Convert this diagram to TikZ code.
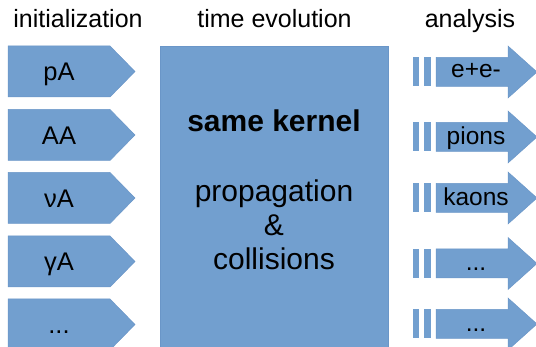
\documentclass[tikz,border=0pt]{standalone}
\usepackage{fontspec}
\setmainfont{Liberation Sans}
\definecolor{boxblue}{HTML}{729FCF}
\definecolor{boxedge}{HTML}{6A96C8}
\newcommand\threedots{...}

\begin{document}
\begin{tikzpicture}[x=1pt,y=-1pt,
  shapefill/.style={fill=boxblue, draw=boxedge, line width=0.5pt},
  title/.style={font=\fontsize{25}{30}\selectfont, anchor=base, inner sep=0pt},
  inlabel/.style={font=\fontsize{25.5}{30}\selectfont, anchor=base, inner sep=0pt},
  outlabel/.style={font=\fontsize{24.5}{30}\selectfont, anchor=base, inner sep=0pt},
  kernel/.style={font=\fontsize{30}{34}\selectfont, anchor=base, inner sep=0pt}]
\useasboundingbox (0,0) rectangle (536,347);

% column headings
\node[title] (hInit) at (78,28) {initialization};
\node[title] (hTime) at (274.5,28) {time evolution};
\node[title] (hAna)  at (470,28) {analysis};

% initial-state pentagons
\foreach \c/\txt/\nm in {71.5/pA/pA, 135/AA/AA, 198/νA/nuA, 261.5/γA/gA, 324.5/\threedots/more}{
  \draw[shapefill] (8,\c-25.5) -- (110,\c-25.5) -- (135,\c) -- (110,\c+25.5) -- (8,\c+25.5) -- cycle;
  \node[inlabel] (in-\nm) at (59,\c+9.5) {\txt};
}

% common kernel block
\draw[shapefill] (160,46) rectangle (388,349);
\node[kernel, font=\fontsize{30}{34}\bfseries] (kern) at (274,132) {same kernel};
\node[kernel] (prop) at (274,202) {propagation};
\node[kernel] (amp)  at (274,236) {\&};
\node[kernel] (coll) at (274,270) {collisions};

% analysis arrows with two leading bars
\foreach \c/\txt/\nm/\dy in {72/e+e-/ee/5.5, 137/pions/pi/8, 198/kaons/K/8, 263.5/\threedots/moreA/7.5, 324/\threedots/moreB/7.5}{
  \fill[boxblue] (413,\c-14.5) rectangle (419,\c+14.5);
  \fill[boxblue] (424,\c-14.5) rectangle (431,\c+14.5);
  \draw[shapefill] (436,\c-14.5) -- (508,\c-14.5) -- (508,\c-26) -- (537,\c)
     -- (508,\c+26) -- (508,\c+14.5) -- (436,\c+14.5) -- cycle;
  \node[outlabel] (out-\nm) at (476,\c+\dy) {\txt};
}
\end{tikzpicture}
\end{document}
